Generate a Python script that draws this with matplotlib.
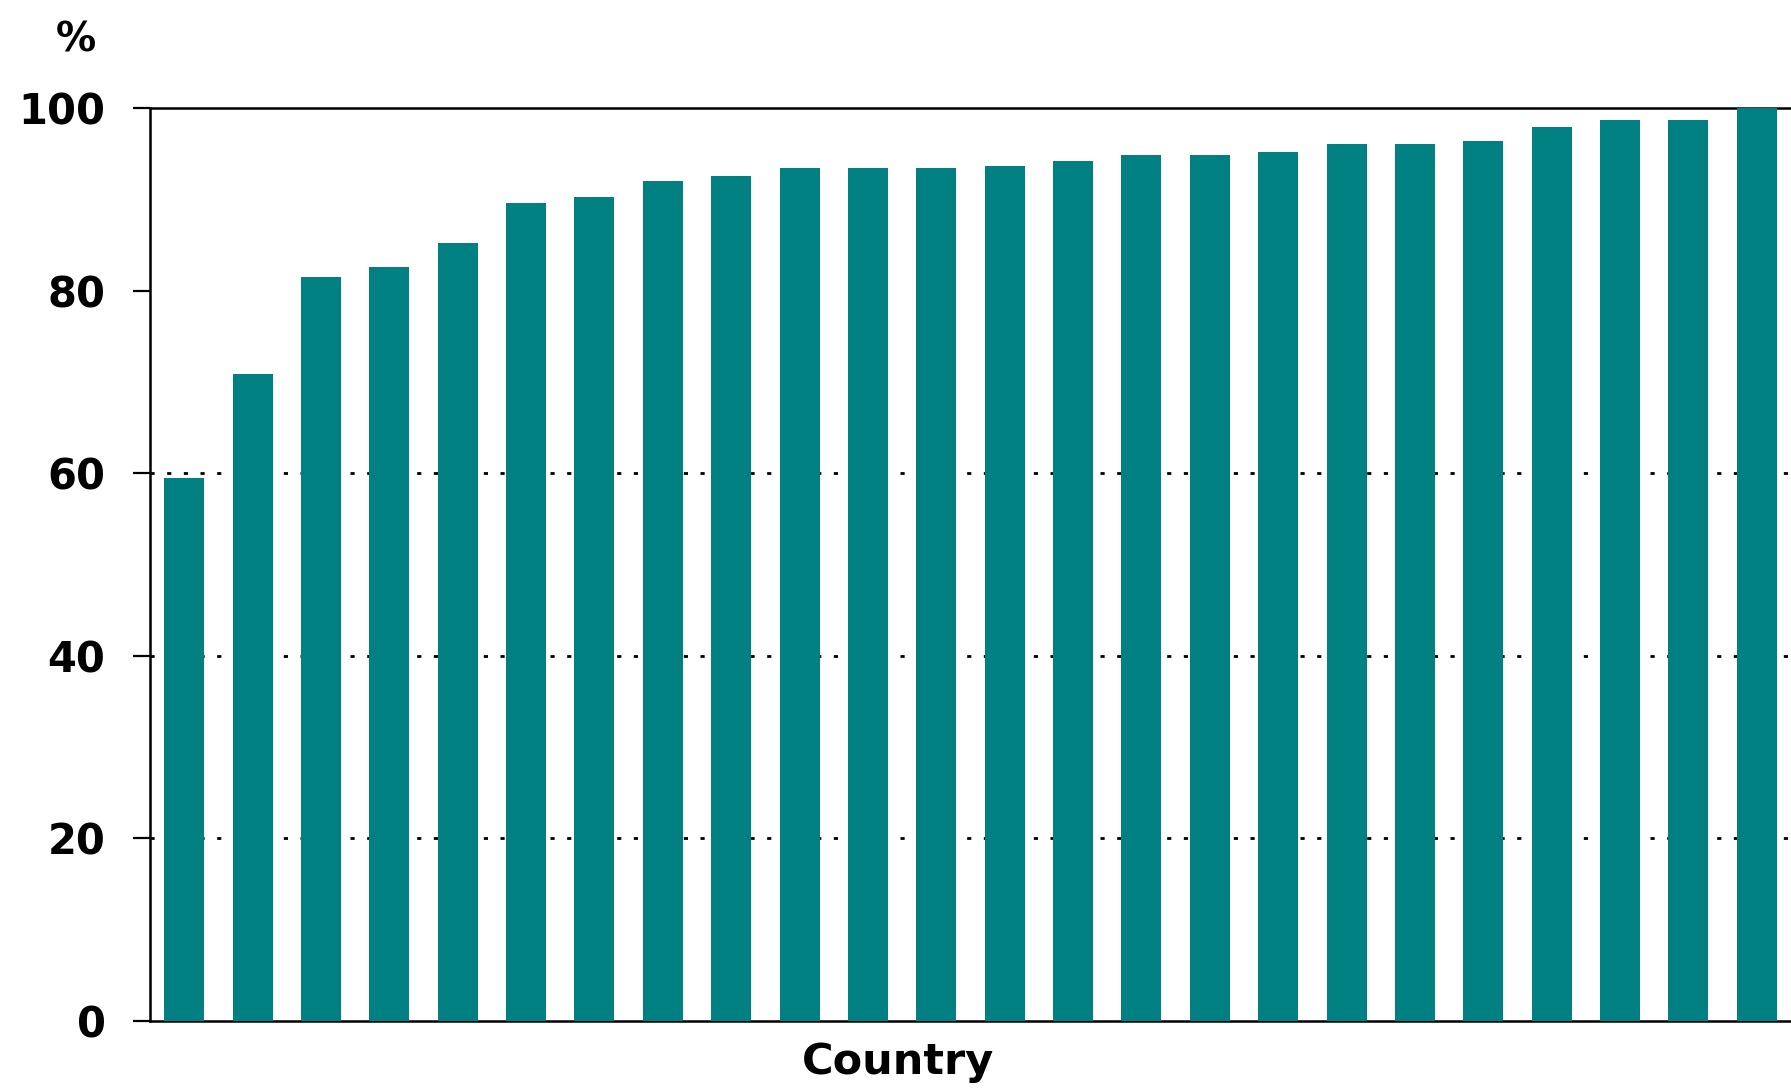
import numpy as np
import matplotlib.pyplot as plt

# values, sorted ascending (one bar per country)
values = [59.5, 70.9, 81.5, 82.6, 85.2, 89.6, 90.2, 92.0, 92.5, 93.4, 93.4, 93.4,
          93.7, 94.2, 94.9, 94.9, 95.2, 96.1, 96.1, 96.4, 97.9, 98.7, 98.7, 100.0]
y_ticks = [0, 20, 40, 60, 80, 100]
grid_levels = [20, 40, 60]

bar_color = '#008080'

fig = plt.figure(figsize=(17.91, 10.88), dpi=100)
ax = fig.add_axes([150 / 1791, 1 - 1021 / 1088, 1 - 150 / 1791, (1021 - 108) / 1088])

x = np.arange(len(values))
ax.bar(x, values, width=0.585, color=bar_color, edgecolor='none', zorder=3)

# dotted gridlines behind the bars
for g in grid_levels:
    ax.axhline(g, color='black', lw=2, linestyle=(0, (1.5, 4.5)), zorder=1)

ax.set_xlim(-0.5, len(values) - 0.5)
ax.set_ylim(0, 100)
ax.set_yticks(y_ticks)
ax.set_xticks([])

ax.spines['right'].set_visible(False)
for s in ['left', 'top', 'bottom']:
    ax.spines[s].set_linewidth(1.8)
ax.tick_params(axis='y', direction='out', length=12, width=1.6, pad=20)
for lbl in ax.get_yticklabels():
    lbl.set_fontfamily('DejaVu Sans')
    lbl.set_fontweight('bold')
    lbl.set_fontsize(30)

fig.text(76 / 1791, 1 - 40 / 1088, '%', ha='center', va='center',
         fontsize=29, fontweight='bold', family='DejaVu Sans')
fig.text(898 / 1791, 1 - 1062 / 1088, 'Country', ha='center', va='center',
         fontsize=31, fontweight='bold', family='DejaVu Sans')

plt.savefig('out.png', dpi=100)
